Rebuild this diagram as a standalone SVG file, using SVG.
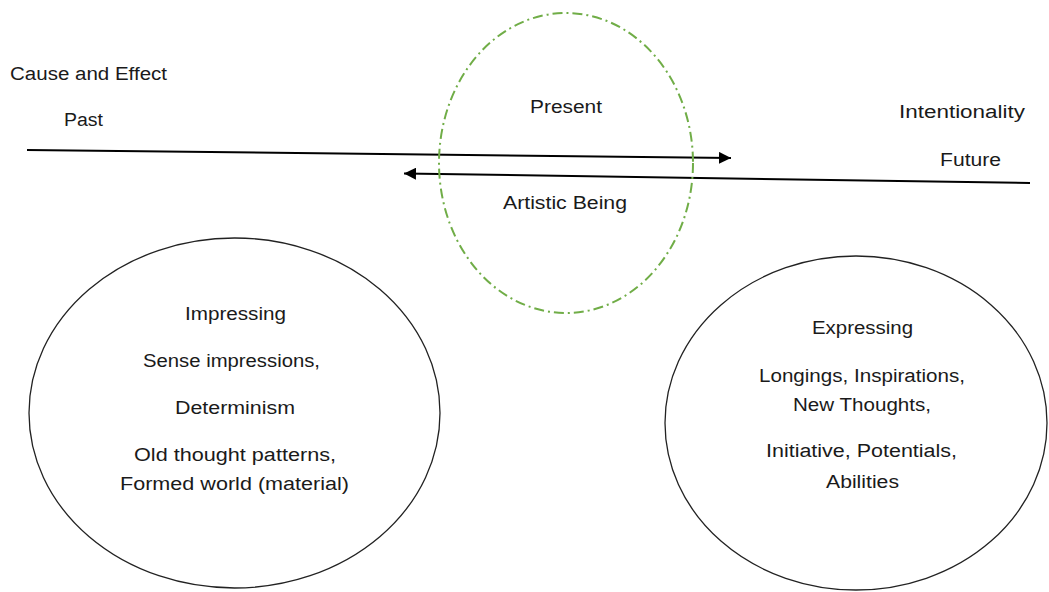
<svg xmlns="http://www.w3.org/2000/svg" width="1049" height="592" viewBox="0 0 1049 592">
<style>
  text { font-family: "Liberation Sans", Arial, sans-serif; font-size: 18px; fill: #1a1a1a; text-anchor: middle; }
  .node { fill: none; stroke: #222; stroke-width: 1.3; }
  .present { fill: none; stroke: #70ad47; stroke-width: 2; stroke-dasharray: 10 4 2 4; }
  .conn { fill: none; stroke: #000; stroke-width: 2; }
</style>
<defs>
  <marker id="arrow" viewBox="0 0 10 10" refX="10" refY="5" markerWidth="12" markerHeight="12" markerUnits="userSpaceOnUse" orient="auto">
    <path d="M0,0 L10,5 L0,10 z" fill="#000"/>
  </marker>
</defs>
<rect width="1049" height="592" fill="#fff"/>
<g id="labels">
  <text x="88.5" y="80" textLength="157" lengthAdjust="spacingAndGlyphs">Cause and Effect</text>
  <text x="83.5" y="126" textLength="39" lengthAdjust="spacingAndGlyphs">Past</text>
  <text x="962" y="118" textLength="126" lengthAdjust="spacingAndGlyphs">Intentionality</text>
  <text x="970.5" y="166" textLength="61" lengthAdjust="spacingAndGlyphs">Future</text>
</g>
<g id="connectors">
  <path class="conn" d="M27,150 L731,158" marker-end="url(#arrow)"/>
  <path class="conn" d="M1030,183 L404,173.5" marker-end="url(#arrow)"/>
</g>
<g id="present">
  <ellipse class="present" cx="566" cy="163" rx="127" ry="150"/>
  <text x="566" y="113" textLength="72" lengthAdjust="spacingAndGlyphs">Present</text>
  <text x="565" y="209" textLength="124" lengthAdjust="spacingAndGlyphs">Artistic Being</text>
</g>
<g id="impressing">
  <ellipse class="node" cx="234.5" cy="413" rx="205.5" ry="175"/>
  <text x="235.5" y="320" textLength="101" lengthAdjust="spacingAndGlyphs">Impressing</text>
  <text x="231.5" y="367" textLength="177" lengthAdjust="spacingAndGlyphs">Sense impressions,</text>
  <text x="235" y="414" textLength="120" lengthAdjust="spacingAndGlyphs">Determinism</text>
  <text x="235" y="461" textLength="202" lengthAdjust="spacingAndGlyphs">Old thought patterns,</text>
  <text x="234.5" y="490" textLength="229" lengthAdjust="spacingAndGlyphs">Formed world (material)</text>
</g>
<g id="expressing">
  <ellipse class="node" cx="856" cy="423" rx="191" ry="167"/>
  <text x="862.5" y="334" textLength="101" lengthAdjust="spacingAndGlyphs">Expressing</text>
  <text x="862" y="382" textLength="206" lengthAdjust="spacingAndGlyphs">Longings, Inspirations,</text>
  <text x="862" y="411" textLength="138" lengthAdjust="spacingAndGlyphs">New Thoughts,</text>
  <text x="861.5" y="457" textLength="191" lengthAdjust="spacingAndGlyphs">Initiative, Potentials,</text>
  <text x="862.5" y="488" textLength="73" lengthAdjust="spacingAndGlyphs">Abilities</text>
</g>
</svg>
